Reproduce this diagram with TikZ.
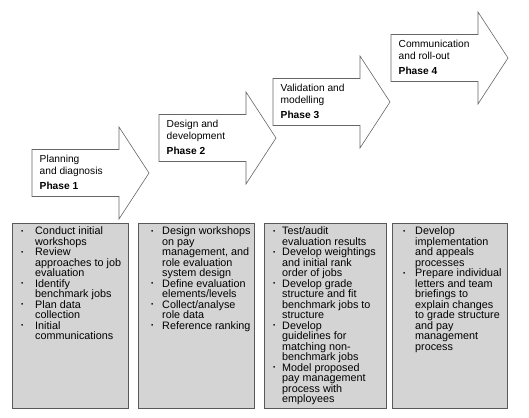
\documentclass[tikz,border=0pt]{standalone}
\usepackage{fontspec}
\setmainfont{Liberation Sans}
\usetikzlibrary{positioning}

\newlength{\bulgap}
\newcommand{\bul}{\makebox[\bulgap][l]{\raisebox{1.1pt}{\fontsize{6.5}{6.5}\selectfont\textbullet}}}
\newcommand{\ind}{\hspace*{\bulgap}}

\tikzset{
    phasearrow/.style={draw=black!60, fill=white, line width=0.6pt, line join=miter},
    phasetext/.style={anchor=north west, inner sep=0pt, align=left, font=\fontsize{10.2}{12}\selectfont},
    taskbox/.style={draw=black!65, fill=black!17, line width=0.7pt, anchor=north west,
        minimum height=185pt, inner sep=0pt},
    tasklist/.style={anchor=north west, inner sep=0pt, align=left,
        font=\fontsize{10.8}{10.5}\selectfont\setlength{\bulgap}{#1}}
}

\begin{document}
\begin{tikzpicture}[x=1pt, y=-1pt]
    \useasboundingbox (0,0) rectangle (529,417);

    \foreach \n/\px/\py/\la/\lb in {1/32/173/Planning/and diagnosis,
                                    2/159/138/Design and/development,
                                    3/273/102/Validation and/modelling,
                                    4/391/58/Communication/and roll-out} {
        \draw[phasearrow] (\px,\py) ++(0,-23.5) coordinate (corner\n)
            -- ++(87,0) -- ++(0,-22.5) -- ++(30,46) -- ++(-30,46)
            -- ++(0,-22.5) -- ++(-87,0) -- cycle;
        \node[phasetext] (phase\n) at ([xshift=7.5pt, yshift=-5pt]corner\n)
            {\la\\\lb\\[3pt]\textbf{Phase \n}};
    }

    \node[taskbox, minimum width=116pt] (tasks1) at (12,223) {};
    \node[taskbox, minimum width=116pt] (tasks2) at (138,223) {};
    \node[taskbox, minimum width=122pt] (tasks3) at (264,223) {};
    \node[taskbox, minimum width=115pt] (tasks4) at (392,223) {};

    \node[tasklist=14pt] (list1) at ([xshift=9pt, yshift=-3.5pt]tasks1.north west)
        {\bul Conduct initial\\
         \ind workshops\\
         \bul Review\\
         \ind approaches to job\\
         \ind evaluation\\
         \bul Identify\\
         \ind benchmark jobs\\
         \bul Plan data\\
         \ind collection\\
         \bul Initial\\
         \ind communications};

    \node[tasklist=11pt] (list2) at ([xshift=13pt, yshift=-3.5pt]tasks2.north west)
        {\bul Design workshops\\
         \ind on pay\\
         \ind management, and\\
         \ind role evaluation\\
         \ind system design\\
         \bul Define evaluation\\
         \ind elements/levels\\
         \bul Collect/analyse\\
         \ind role data\\
         \bul Reference ranking};

    \node[tasklist=9pt] (list3) at ([xshift=9pt, yshift=-3.5pt]tasks3.north west)
        {\bul Test/audit\\
         \ind evaluation results\\
         \bul Develop weightings\\
         \ind and initial rank\\
         \ind order of jobs\\
         \bul Develop grade\\
         \ind structure and fit\\
         \ind benchmark jobs to\\
         \ind structure\\
         \bul Develop\\
         \ind guidelines for\\
         \ind matching non-\\
         \ind benchmark jobs\\
         \bul Model proposed\\
         \ind pay management\\
         \ind process with\\
         \ind employees};

    \node[tasklist=12pt] (list4) at ([xshift=11pt, yshift=-3.5pt]tasks4.north west)
        {\bul Develop\\
         \ind implementation\\
         \ind and appeals\\
         \ind processes\\
         \bul Prepare individual\\
         \ind letters and team\\
         \ind briefings to\\
         \ind explain changes\\
         \ind to grade structure\\
         \ind and pay\\
         \ind management\\
         \ind process};
\end{tikzpicture}
\end{document}
